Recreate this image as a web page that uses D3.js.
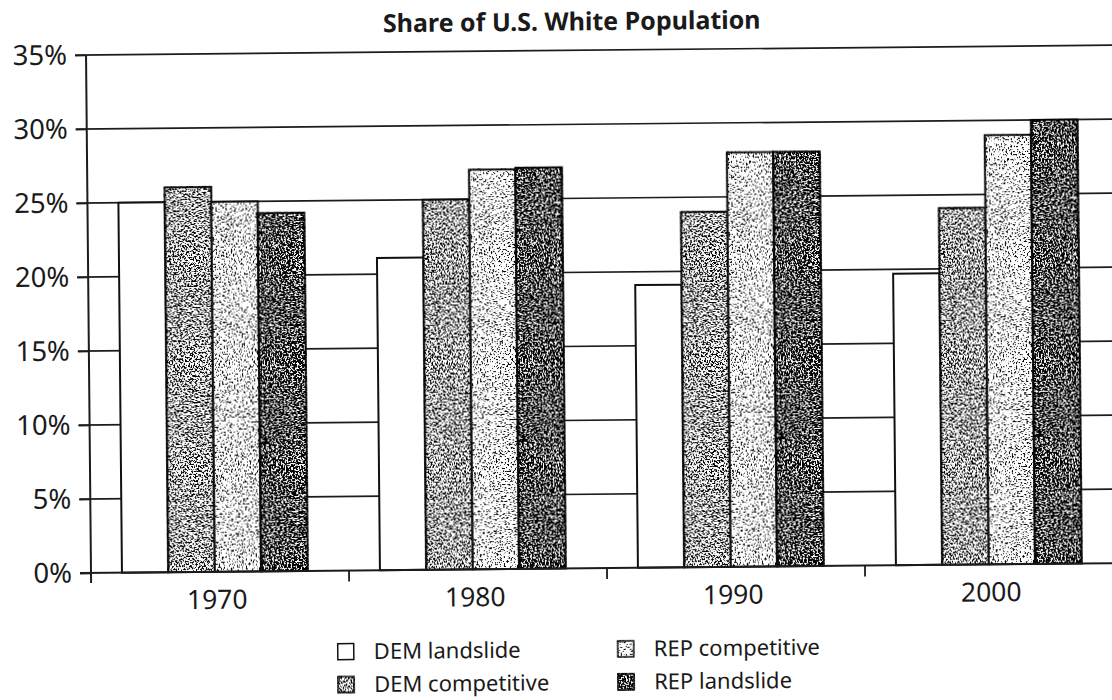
<!DOCTYPE html>
<html>
<head>
<meta charset="utf-8">
<script src="https://cdn.jsdelivr.net/npm/d3@7"></script>
<style>
  html, body { margin: 0; padding: 0; background: #fff; }
  svg { display: block; }
  text { font-family: "Noto Sans", "DejaVu Sans", sans-serif; fill: #1a1a1a; }
</style>
</head>
<body>
<svg id="chart" width="1112" height="700"></svg>
<script>
// Decades on the category axis
const years = ["1970", "1980", "1990", "2000"];

// County groups shown as series
const seriesNames = ["DEM landslide", "DEM competitive", "REP competitive", "REP landslide"];

// Share of U.S. white population (%), one value per decade
const demLandslide   = [25.0, 21.1, 19.1, 19.7];
const demCompetitive = [26.0, 25.0, 24.0, 24.1];
const repCompetitive = [25.0, 27.0, 28.0, 29.0];
const repLandslide   = [24.2, 27.1, 28.0, 30.0];

// Value-axis ticks (%)
const yTicks = [0, 5, 10, 15, 20, 25, 30, 35];

const seriesValues = [demLandslide, demCompetitive, repCompetitive, repLandslide];

const svg = d3.select("#chart");

// Stipple textures: black grain over white, density per series
const grain = [
  { id: "grain-none",  cut: null },
  { id: "grain-mid",   cut: 6.1 },
  { id: "grain-light", cut: 5.1 },
  { id: "grain-dark",  cut: 7.0 }
];
const defs = svg.append("defs");
grain.filter(g => g.cut !== null).forEach((g, i) => {
  const f = defs.append("filter")
    .attr("id", g.id)
    .attr("x", "-10%").attr("y", "-10%")
    .attr("width", "120%").attr("height", "120%")
    .attr("color-interpolation-filters", "sRGB");
  f.append("feTurbulence")
    .attr("type", "fractalNoise")
    .attr("baseFrequency", 0.6)
    .attr("numOctaves", 2)
    .attr("seed", 7 + i * 5)
    .attr("result", "noise");
  f.append("feColorMatrix")
    .attr("in", "noise")
    .attr("type", "matrix")
    .attr("values", `0 0 0 0 0  0 0 0 0 0  0 0 0 0 0  -12 0 0 0 ${g.cut}`)
    .attr("result", "dots");
  f.append("feComposite")
    .attr("in", "dots")
    .attr("in2", "SourceAlpha")
    .attr("operator", "in")
    .attr("result", "clipped");
  const m = f.append("feMerge");
  m.append("feMergeNode").attr("in", "SourceGraphic");
  m.append("feMergeNode").attr("in", "clipped");
});

// Whole figure sits slightly tilted
const root = svg.append("g").attr("transform", "rotate(-0.55 91 573)");

const x0 = d3.scaleBand().domain(years).range([91, 1123]);
const x1 = d3.scaleBand().domain(seriesNames)
  .range([x0.bandwidth() * 0.12, x0.bandwidth() * 0.84]);
const y = d3.scaleLinear().domain([0, 35]).range([573, 55]);

// Horizontal gridlines with outward tick stubs
root.append("g")
  .selectAll("line")
  .data(yTicks.filter(t => t > 0))
  .join("line")
  .attr("x1", 80).attr("x2", 1135)
  .attr("y1", d => y(d)).attr("y2", d => y(d))
  .attr("stroke", "#1c1c1c").attr("stroke-width", 1.7);

// Value axis
const yAxis = root.append("g")
  .attr("transform", "translate(91,0)")
  .call(d3.axisLeft(y).tickValues(yTicks).tickSize(11).tickPadding(8)
    .tickFormat(d => d + "%"));
yAxis.select(".domain").remove();
yAxis.selectAll(".tick line").attr("stroke", "#1c1c1c").attr("stroke-width", 1.7);
yAxis.selectAll(".tick text")
  .attr("font-size", 27.5)
  .attr("font-family", "'DejaVu Sans', sans-serif")
  .attr("fill", "#1a1a1a");
root.append("line")
  .attr("x1", 91).attr("x2", 91)
  .attr("y1", y(35)).attr("y2", 583)
  .attr("stroke", "#1c1c1c").attr("stroke-width", 2);

// Bars
const fills = ["grain-none", "grain-mid", "grain-light", "grain-dark"];
const groups = root.append("g")
  .selectAll("g")
  .data(years)
  .join("g")
  .attr("transform", d => `translate(${x0(d)},0)`);

groups.selectAll("rect")
  .data((yr, i) => seriesNames.map((s, k) => ({ s, k, v: seriesValues[k][i] })))
  .join("rect")
  .attr("x", d => x1(d.s))
  .attr("width", x1.bandwidth())
  .attr("y", d => y(d.v))
  .attr("height", d => y(0) - y(d.v))
  .attr("fill", "#fff")
  .attr("stroke", "#111")
  .attr("stroke-width", 2)
  .attr("filter", d => d.k === 0 ? null : `url(#${fills[d.k]})`);

// Category axis
const xAxis = root.append("g")
  .attr("transform", "translate(0,573)");
xAxis.append("line")
  .attr("x1", 80).attr("x2", 1135)
  .attr("stroke", "#1c1c1c").attr("stroke-width", 2);
xAxis.selectAll("line.tick")
  .data(years.slice(1))
  .join("line")
  .attr("class", "tick")
  .attr("x1", d => x0(d)).attr("x2", d => x0(d))
  .attr("y1", 0).attr("y2", 11)
  .attr("stroke", "#1c1c1c").attr("stroke-width", 1.8);
xAxis.selectAll("text")
  .data(years)
  .join("text")
  .attr("x", d => x0(d) + x0.bandwidth() / 2 - 3)
  .attr("y", 37)
  .attr("text-anchor", "middle")
  .attr("font-size", 26.5)
  .attr("font-family", "'DejaVu Sans', sans-serif")
  .text(d => d);

// Title
root.append("text")
  .attr("x", 577).attr("y", 35)
  .attr("text-anchor", "middle")
  .attr("font-size", 25)
  .attr("font-weight", 700)
  .text("Share of U.S. White Population");

// Legend: two columns, two rows
const legend = root.append("g");
const items = legend.selectAll("g")
  .data(seriesNames)
  .join("g")
  .attr("transform", (d, i) => {
    const col = Math.floor(i / 2), row = i % 2;
    return `translate(${337 + col * 280},${654 + row * 33})`;
  });
items.append("rect")
  .attr("x", 0).attr("y", -8)
  .attr("width", 16).attr("height", 16)
  .attr("fill", "#fff")
  .attr("stroke", "#111").attr("stroke-width", 1.5)
  .attr("filter", (d, i) => i === 0 ? null : `url(#${fills[i]})`);
items.append("text")
  .attr("x", 36).attr("y", 0)
  .attr("dy", "0.35em")
  .attr("font-size", 22)
  .text(d => d);
</script>
</body>
</html>
